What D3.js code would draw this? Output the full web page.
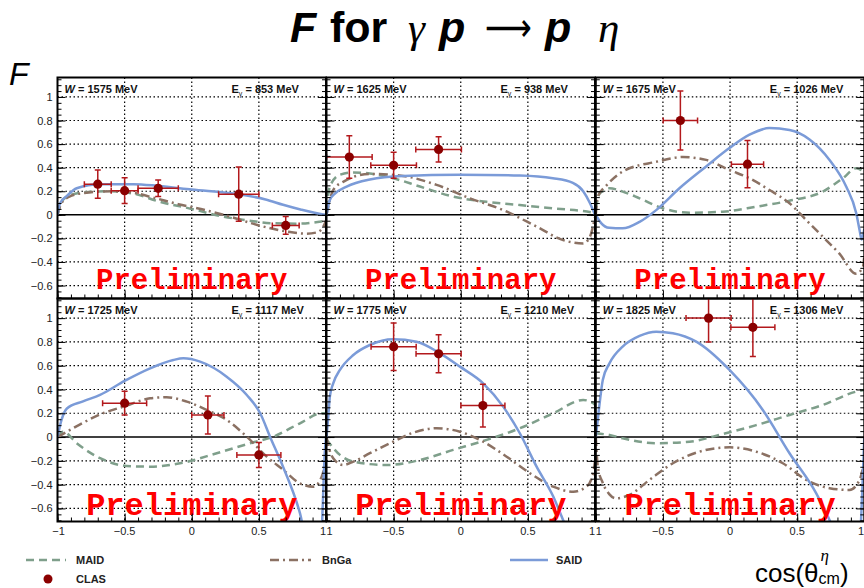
<!DOCTYPE html>
<html><head><meta charset="utf-8">
<script src="https://cdn.jsdelivr.net/npm/d3@7"></script>
<style>body{margin:0;background:#fff}svg{display:block}</style>
</head><body><svg id="c" width="864" height="588"></svg>
<script>
// ---------- data ----------
const wValues = [1575, 1625, 1675, 1725, 1775, 1825];
const eGamma = [853, 938, 1026, 1117, 1210, 1306];
const yTickValues = [-0.6, -0.4, -0.2, 0, 0.2, 0.4, 0.6, 0.8, 1];
const xTickValues = [-1, -0.5, 0, 0.5, 1];
const legendLabels = ["MAID", "BnGa", "SAID", "CLAS"];

// CLAS points: [cos, F, dcos, dF]
const clas1575 = [[-0.70,0.26,0.10,0.12],[-0.50,0.205,0.10,0.11],[-0.25,0.225,0.15,0.07],[0.35,0.175,0.15,0.23],[0.70,-0.09,0.10,0.075]];
const clas1625 = [[-0.83,0.49,0.17,0.18],[-0.50,0.42,0.17,0.11],[-0.165,0.555,0.17,0.107]];
const clas1675 = [[-0.37,0.80,0.128,0.25],[0.13,0.43,0.12,0.20]];
const clas1725 = [[-0.50,0.285,0.164,0.10],[0.12,0.186,0.12,0.16],[0.50,-0.15,0.164,0.105]];
const clas1775 = [[-0.50,0.76,0.168,0.20],[-0.165,0.70,0.168,0.16],[0.165,0.265,0.164,0.18]];
const clas1825 = [[-0.16,1.0,0.168,0.20],[0.17,0.923,0.164,0.245]];

// MAID curves
const maid1575 = [[-1,0],[-0.97,0.11],[-0.9,0.17],[-0.8,0.19],[-0.62,0.2],[-0.435,0.18],[-0.237,0.11],[0,0.05],[0.21,-0.01],[0.4,-0.045],[0.607,-0.072],[0.8,-0.075],[0.955,-0.058],[1,-0.05]];
const maid1625 = [[-1,0.05],[-0.975,0.24],[-0.9,0.34],[-0.8,0.36],[-0.677,0.35],[-0.503,0.31],[-0.304,0.24],[-0.058,0.155],[0.193,0.11],[0.44,0.083],[0.686,0.055],[0.984,0.018],[1,0]];
const maid1675 = [[-1,0.05],[-0.972,0.18],[-0.898,0.225],[-0.8,0.197],[-0.674,0.14],[-0.5,0.055],[-0.302,0.018],[-0.054,0.026],[0.195,0.069],[0.443,0.12],[0.691,0.197],[0.84,0.31],[0.94,0.396],[1,0.36]];
const maid1725 = [[-1,0],[-0.957,0.045],[-0.857,-0.052],[-0.683,-0.178],[-0.485,-0.243],[-0.31,-0.249],[-0.062,-0.215],[0.186,-0.136],[0.434,-0.052],[0.607,0.003],[0.806,0.116],[0.968,0.2],[1,0.2]];
const maid1775 = [[-1,-0.02],[-0.98,-0.05],[-0.9,-0.15],[-0.8,-0.207],[-0.552,-0.235],[-0.304,-0.193],[-0.056,-0.108],[0.193,-0.024],[0.44,0.074],[0.689,0.2],[0.912,0.312],[0.987,0.284],[1,0.27]];
const maid1825 = [[-1,0.03],[-0.898,0.018],[-0.8,-0.01],[-0.55,-0.052],[-0.302,-0.039],[-0.054,0.026],[0.195,0.1],[0.443,0.186],[0.691,0.27],[0.94,0.382],[1,0.396]];

// BnGa curves
const bnga1575 = [[-1,0],[-0.97,0.1],[-0.9,0.16],[-0.8,0.185],[-0.6,0.2],[-0.45,0.19],[-0.3,0.15],[-0.1,0.09],[0.1,0.04],[0.3,-0.02],[0.5,-0.09],[0.7,-0.14],[0.85,-0.16],[0.93,-0.15],[0.98,-0.1],[1,-0.05]];
const bnga1625 = [[-1,0],[-0.95,0.21],[-0.876,0.28],[-0.677,0.347],[-0.43,0.33],[-0.18,0.254],[0.069,0.14],[0.316,0.04],[0.565,-0.1],[0.763,-0.215],[0.912,-0.243],[0.962,-0.186],[1,-0.02]];
const bnga1675 = [[-1,0],[-0.985,0.154],[-0.92,0.25],[-0.8,0.367],[-0.55,0.45],[-0.352,0.49],[-0.178,0.466],[-0.005,0.38],[0.145,0.31],[0.294,0.21],[0.443,0.098],[0.567,-0.044],[0.691,-0.186],[0.815,-0.33],[0.94,-0.5],[0.99,-0.44],[1,-0.35]];
const bnga1725 = [[-1,0],[-0.93,0.045],[-0.81,0.12],[-0.683,0.19],[-0.497,0.26],[-0.31,0.326],[-0.187,0.335],[-0.037,0.298],[0.112,0.228],[0.26,0.144],[0.41,0.003],[0.558,-0.165],[0.683,-0.277],[0.806,-0.39],[0.905,-0.417],[0.968,-0.333],[1,-0.2]];
const bnga1775 = [[-1,0],[-0.98,-0.1],[-0.95,-0.178],[-0.876,-0.235],[-0.8,-0.207],[-0.677,-0.136],[-0.503,-0.039],[-0.354,0.037],[-0.18,0.074],[-0.006,0.045],[0.167,-0.039],[0.342,-0.165],[0.515,-0.304],[0.689,-0.417],[0.838,-0.459],[0.937,-0.417],[0.987,-0.304],[1,-0.2]];
const bnga1825 = [[-1,0],[-0.985,-0.25],[-0.95,-0.38],[-0.9,-0.48],[-0.85,-0.515],[-0.75,-0.487],[-0.6,-0.36],[-0.426,-0.22],[-0.228,-0.123],[-0.004,-0.086],[0.195,-0.123],[0.393,-0.22],[0.567,-0.36],[0.741,-0.43],[0.89,-0.445],[0.965,-0.36],[1,-0.2]];

// SAID curves
const said1575 = [[-1,0],[-0.98,0.1],[-0.93,0.16],[-0.857,0.225],[-0.683,0.26],[-0.435,0.26],[-0.25,0.245],[0,0.215],[0.35,0.175],[0.55,0.13],[0.68,0.085],[0.81,0.045],[0.97,0.005],[1,0]];
const said1625 = [[-1,0],[-0.975,0.126],[-0.937,0.18],[-0.85,0.24],[-0.677,0.30],[-0.43,0.33],[-0.006,0.34],[0.44,0.333],[0.686,0.31],[0.835,0.27],[0.912,0.2],[0.962,0.1],[1,0]];
const said1675 = [[-1,0],[-0.96,-0.07],[-0.9,-0.11],[-0.8,-0.115],[-0.674,-0.06],[-0.55,0.04],[-0.377,0.225],[-0.178,0.41],[-0.005,0.566],[0.145,0.68],[0.294,0.736],[0.443,0.72],[0.592,0.64],[0.741,0.466],[0.865,0.24],[0.94,0.013],[0.965,-0.13],[0.98,-0.21],[1,-0.12]];
const said1725 = [[-1,0],[-0.97,0.144],[-0.93,0.24],[-0.81,0.3],[-0.683,0.354],[-0.497,0.474],[-0.31,0.578],[-0.137,0.648],[-0.062,0.662],[0.062,0.634],[0.26,0.508],[0.41,0.354],[0.51,0.2],[0.583,0.003],[0.68,-0.25],[0.806,-0.64],[0.9,-1.1],[0.96,-1.0],[0.975,-0.6],[0.99,-0.15],[1,0]];
const said1775 = [[-1,0],[-0.985,0.2],[-0.975,0.34],[-0.95,0.452],[-0.9,0.564],[-0.8,0.69],[-0.677,0.774],[-0.503,0.822],[-0.329,0.802],[-0.163,0.71],[-0.006,0.592],[0.167,0.452],[0.316,0.256],[0.44,0.032],[0.565,-0.249],[0.689,-0.5],[0.763,-0.7],[0.85,-0.95]];
const said1825 = [[-1,0],[-0.98,0.2],[-0.948,0.48],[-0.898,0.62],[-0.8,0.76],[-0.674,0.85],[-0.55,0.886],[-0.426,0.873],[-0.252,0.802],[-0.004,0.564],[0.244,0.228],[0.443,-0.136],[0.642,-0.473],[0.741,-0.697],[0.85,-1.0],[0.92,-1.1],[0.96,-1.0],[0.985,-0.45],[1,0]];

const clasSets = [clas1575, clas1625, clas1675, clas1725, clas1775, clas1825];
const maidSets = [maid1575, maid1625, maid1675, maid1725, maid1775, maid1825];
const bngaSets = [bnga1575, bnga1625, bnga1675, bnga1725, bnga1775, bnga1825];
const saidSets = [said1575, said1625, said1675, said1725, said1775, said1825];

// ---------- styles / layout ----------
const COL = { maid: "#7f9f8b", bnga: "#8b7163", said: "#7b9bd8", clas: "#8b0000", err: "#b3191c" };
const panelLeft = [57.5, 326.5, 595.8];
const panelW = 268.5;
const rowTop = [77.5, 298.5];
const rowH = [221, 223];
const yDomain = [-0.71, 1.165];
const SANS = "'Liberation Sans', Arial, sans-serif";
const SERIF = "'Liberation Serif', 'Times New Roman', serif";

const svg = d3.select("#c");
const defs = svg.append("defs");

const line = (x, y) => d3.line().x(d => x(d[0])).y(d => y(d[1])).curve(d3.curveMonotoneX);

wValues.forEach((w, i) => {
  const col = i % 3, row = Math.floor(i / 3);
  const x0 = panelLeft[col], y0 = rowTop[row], h = rowH[row];
  const x = d3.scaleLinear().domain([-1, 1]).range([x0, x0 + panelW]);
  const y = d3.scaleLinear().domain(yDomain).range([y0 + h, y0]);
  const g = svg.append("g");

  defs.append("clipPath").attr("id", "clip" + i)
    .append("rect").attr("x", x0).attr("y", y0).attr("width", panelW).attr("height", h);

  // grid
  const grid = g.append("g").attr("stroke", "#000").attr("stroke-width", 1.2).attr("stroke-dasharray", "1.5,2.5");
  grid.selectAll("line.h").data(yTickValues.filter(v => v !== 0)).join("line")
    .attr("x1", x0).attr("x2", x0 + panelW).attr("y1", d => y(d)).attr("y2", d => y(d));
  grid.selectAll("line.v").data([-0.5, 0, 0.5]).join("line")
    .attr("y1", y0).attr("y2", y0 + h).attr("x1", d => x(d)).attr("x2", d => x(d));
  g.append("line").attr("x1", x0).attr("x2", x0 + panelW).attr("y1", y(0)).attr("y2", y(0))
    .attr("stroke", "#000").attr("stroke-width", 1.5);

  // header texts
  const hdr = g.append("text").attr("x", x0 + 7).attr("y", y0 + 15)
    .attr("font-family", SANS).attr("font-size", 11).attr("font-weight", "bold").attr("fill", "#111");
  hdr.append("tspan").attr("font-style", "italic").text("W");
  hdr.append("tspan").text(" = " + w + " MeV");
  const eh = g.append("text").attr("x", x0 + 174).attr("y", y0 + 15)
    .attr("font-family", SANS).attr("font-size", 11).attr("font-weight", "bold").attr("fill", "#111");
  eh.append("tspan").text("E");
  eh.append("tspan").attr("font-size", 7).attr("font-weight", "normal").attr("dy", 3).text("γ");
  eh.append("tspan").attr("dy", -3).text(" = " + eGamma[i] + " MeV");

  // curves
  const cg = g.append("g").attr("clip-path", `url(#clip${i})`).attr("fill", "none").attr("stroke-width", 2.5);
  cg.append("path").attr("d", line(x, y)(maidSets[i])).attr("stroke", COL.maid).attr("stroke-dasharray", "8,5");
  cg.append("path").attr("d", line(x, y)(bngaSets[i])).attr("stroke", COL.bnga).attr("stroke-dasharray", "9,4,2,4");
  cg.append("path").attr("d", line(x, y)(saidSets[i])).attr("stroke", COL.said);

  // CLAS points with error bars
  const pg = g.append("g").attr("clip-path", `url(#clip${i})`);
  const pts = pg.selectAll("g.pt").data(clasSets[i]).join("g");
  pts.append("line").attr("x1", d => x(d[0] - d[2])).attr("x2", d => x(d[0] + d[2]))
    .attr("y1", d => y(d[1])).attr("y2", d => y(d[1])).attr("stroke", COL.err).attr("stroke-width", 1.5);
  pts.append("line").attr("x1", d => x(d[0])).attr("x2", d => x(d[0]))
    .attr("y1", d => y(d[1] - d[3])).attr("y2", d => y(d[1] + d[3])).attr("stroke", COL.err).attr("stroke-width", 1.5);
  [-1, 1].forEach(s => {
    pts.append("line").attr("x1", d => x(d[0] + s * d[2])).attr("x2", d => x(d[0] + s * d[2]))
      .attr("y1", d => y(d[1]) - 3).attr("y2", d => y(d[1]) + 3).attr("stroke", COL.err).attr("stroke-width", 1.5);
    pts.append("line").attr("x1", d => x(d[0]) - 3).attr("x2", d => x(d[0]) + 3)
      .attr("y1", d => y(d[1] + s * d[3])).attr("y2", d => y(d[1] + s * d[3])).attr("stroke", COL.err).attr("stroke-width", 1.5);
  });
  pts.append("circle").attr("cx", d => x(d[0])).attr("cy", d => y(d[1])).attr("r", 4.6).attr("fill", COL.clas);

  // Preliminary
  g.append("text").attr("x", x0 + panelW / 2).attr("y", row === 0 ? y0 + 211 : y0 + 216)
    .attr("text-anchor", "middle").attr("font-family", "'Liberation Mono', 'Courier New', monospace")
    .attr("font-weight", "bold").attr("font-size", row === 0 ? 29 : 32).attr("fill", "#ff0000")
    .text("Preliminary");

  // ticks (inward)
  const minorY = d3.range(-0.7, 1.16, 0.05).map(v => +v.toFixed(2));
  const tickStyle = sel => sel.call(s => s.select(".domain").remove()).selectAll("line").attr("stroke", "#000").attr("stroke-width", 1);
  g.append("g").attr("transform", `translate(${x0},0)`).call(d3.axisRight(y).tickValues(minorY).tickSize(4).tickFormat("")).call(tickStyle);
  g.append("g").attr("transform", `translate(${x0},0)`).call(d3.axisRight(y).tickValues(yTickValues).tickSize(8).tickFormat("")).call(tickStyle);
  g.append("g").attr("transform", `translate(${x0 + panelW},0)`).call(d3.axisLeft(y).tickValues(minorY).tickSize(4).tickFormat("")).call(tickStyle);
  g.append("g").attr("transform", `translate(${x0 + panelW},0)`).call(d3.axisLeft(y).tickValues(yTickValues).tickSize(8).tickFormat("")).call(tickStyle);
  const minorX = d3.range(-1, 1.001, 0.1).map(v => +v.toFixed(2));
  g.append("g").attr("transform", `translate(0,${y0 + h})`).call(d3.axisTop(x).tickValues(minorX).tickSize(4).tickFormat("")).call(tickStyle);
  g.append("g").attr("transform", `translate(0,${y0 + h})`).call(d3.axisTop(x).tickValues(xTickValues).tickSize(8).tickFormat("")).call(tickStyle);

  // frame
  g.append("rect").attr("x", x0).attr("y", y0).attr("width", panelW).attr("height", h)
    .attr("fill", "none").attr("stroke", "#000").attr("stroke-width", 2);

  // y labels on first column
  if (col === 0) {
    const ax = g.append("g").attr("transform", `translate(${x0},0)`)
      .call(d3.axisLeft(y).tickValues(yTickValues).tickSize(0).tickPadding(5).tickFormat(d => d3.format("")(+d.toFixed(1))));
    ax.select(".domain").remove();
    ax.selectAll("text").attr("font-family", SANS).attr("font-size", 11).attr("fill", "#222");
  }
  // x labels on bottom row
  if (row === 1) {
    const labs = g.append("g").attr("font-family", SANS).attr("font-size", 11).attr("fill", "#222");
    xTickValues.forEach(v => {
      let txt = d3.format("")(v), anchor = "middle", px = x(v);
      if (v === -1 && col === 0) px += 1;
      if (v === -1 && col > 0) { txt = "1"; anchor = "start"; }
      if (v === 1) { anchor = "end"; if (col === 2) px = 864; }
      labs.append("text").attr("x", px).attr("y", y0 + h + 13)
        .attr("text-anchor", anchor).text(txt);
    });
  }
});

// Title (pieces placed left to right)
const titleParts = [
  { t: "F", x: 290, y: 42, fs: 43, fam: SANS, w: "bold", s: "italic" },
  { t: "for", x: 330, y: 42, fs: 43, fam: SANS, w: "bold", s: "normal" },
  { t: "γ", x: 408, y: 42, fs: 43, fam: SERIF, w: "normal", s: "italic" },
  { t: "p", x: 439, y: 42, fs: 43, fam: SANS, w: "bold", s: "italic" },
  { t: "⟶", x: 485, y: 41, fs: 40, fam: "'DejaVu Sans', sans-serif", w: "normal", s: "normal", len: 47 },
  { t: "p", x: 545, y: 42, fs: 43, fam: SANS, w: "bold", s: "italic" },
  { t: "η", x: 598, y: 42, fs: 43, fam: SERIF, w: "normal", s: "italic" }
];
const title = svg.append("g").attr("fill", "#000");
titleParts.forEach(p => {
  const t = title.append("text").attr("x", p.x).attr("y", p.y).attr("font-size", p.fs)
    .attr("font-family", p.fam).attr("font-weight", p.w).attr("font-style", p.s).text(p.t);
  if (p.len) t.attr("textLength", p.len).attr("lengthAdjust", "spacingAndGlyphs");
});

// Y axis title
svg.append("text").attr("x", 9).attr("y", 85).attr("font-family", SANS).attr("font-style", "italic")
  .attr("font-size", 32).text("F");

// X axis title
const xt = svg.append("text").attr("x", 755).attr("y", 582).attr("font-family", SANS).attr("font-size", 26).text("cos(θ");
const xtw = xt.node().getComputedTextLength();
svg.append("text").attr("x", 755 + xtw + 2).attr("y", 561).attr("font-family", SERIF).attr("font-style", "italic").attr("font-size", 17).text("η");
const cm = svg.append("text").attr("x", 755 + xtw).attr("y", 584).attr("font-family", SANS).attr("font-size", 16).text("cm");
const cmw = cm.node().getComputedTextLength();
svg.append("text").attr("x", 755 + xtw + cmw).attr("y", 582).attr("font-family", SANS).attr("font-size", 26).text(")");

// Legend
const lg = svg.append("g").attr("font-family", SANS).attr("font-size", 11).attr("font-weight", "bold").attr("fill", "#222");
const legendItems = [
  { label: legendLabels[0], x1: 26, x2: 66, tx: 76, y: 560, stroke: COL.maid, dash: "8,5" },
  { label: legendLabels[1], x1: 270, x2: 311, tx: 322, y: 560, stroke: COL.bnga, dash: "9,4,2,4" },
  { label: legendLabels[2], x1: 510, x2: 548, tx: 556, y: 560, stroke: COL.said, dash: null }
];
legendItems.forEach(d => {
  lg.append("line").attr("x1", d.x1).attr("x2", d.x2).attr("y1", d.y).attr("y2", d.y)
    .attr("stroke", d.stroke).attr("stroke-width", 2.5).attr("stroke-dasharray", d.dash);
  lg.append("text").attr("x", d.tx).attr("y", d.y + 4).text(d.label);
});
lg.append("circle").attr("cx", 48).attr("cy", 579).attr("r", 4.5).attr("fill", COL.clas);
lg.append("text").attr("x", 76).attr("y", 583).text(legendLabels[3]);
</script>
</body></html>
